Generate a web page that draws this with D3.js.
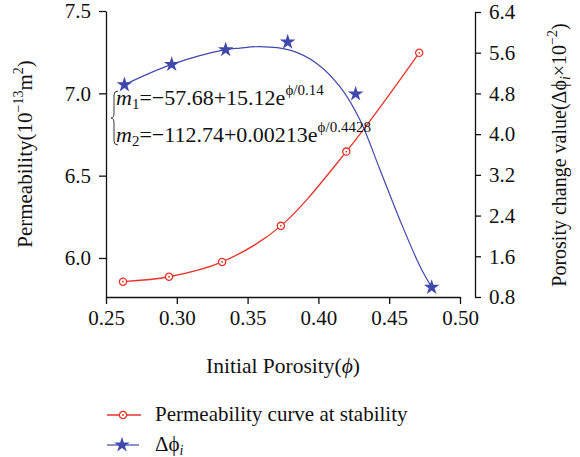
<!DOCTYPE html>
<html>
<head>
<meta charset="utf-8">
<script src="https://cdn.jsdelivr.net/npm/d3@7"></script>
<style>
  body { margin: 0; background: #fff; }
  text { font-family: "Liberation Serif", "DejaVu Serif", serif; fill: #111; }
</style>
</head>
<body>
<div id="chart"></div>
<script>
// permeability at stability (left axis)
const permPhi = [0.262, 0.2945, 0.332, 0.3735, 0.4197, 0.4712];
const permVal = [5.856, 5.886, 5.976, 6.195, 6.646, 7.246];

// porosity change (right axis), measured points
const dPhi = [0.263, 0.2964, 0.3345, 0.3783, 0.4263, 0.480];
const dVal = [4.97, 5.37, 5.66, 5.81, 4.79, 0.99];

// fitted curve for porosity change
const fitPhi = [0.263, 0.2964, 0.3345, 0.3446, 0.3588, 0.380, 0.3988, 0.4153, 0.4294, 0.4435, 0.4576, 0.4718, 0.480];
const fitVal = [4.97, 5.37, 5.66, 5.69, 5.72, 5.65, 5.39, 4.93, 4.28, 3.30, 2.31, 1.40, 0.99];

const xTicks = [0.25, 0.30, 0.35, 0.40, 0.45, 0.50];
const leftTicks = [6.0, 6.5, 7.0, 7.5];
const rightTicks = [0.8, 1.6, 2.4, 3.2, 4.0, 4.8, 5.6, 6.4];

const w = 580, h = 457;
const red = "#e5342a", blue = "#4048ab";

const svg = d3.select("#chart").append("svg")
    .attr("width", w).attr("height", h);

const x = d3.scaleLinear().domain([0.25, 0.50]).range([106, 460]);
const yL = d3.scaleLinear().domain([5.763, 7.5]).range([297, 11]);
const yR = d3.scaleLinear().domain([0.8, 6.4]).range([297, 12]);

const styleAxis = g => {
  g.selectAll("path, line").attr("stroke", "#111").attr("stroke-width", 1.3);
  g.selectAll("text").attr("font-size", 21).attr("font-family", "Liberation Serif").attr("fill", "#111");
};

svg.append("g").attr("transform", "translate(0,297)")
  .call(d3.axisBottom(x).tickValues(xTicks).tickFormat(d3.format(".2f")).tickSize(7).tickSizeOuter(0).tickPadding(6))
  .call(styleAxis);

svg.append("g").attr("transform", "translate(106,0)")
  .call(d3.axisLeft(yL).tickValues(leftTicks).tickFormat(d3.format(".1f")).tickSize(7).tickSizeOuter(0).tickPadding(8))
  .call(styleAxis);

svg.append("g").attr("transform", "translate(475,0)")
  .call(d3.axisRight(yR).tickValues(rightTicks).tickFormat(d3.format(".1f")).tickSize(6).tickSizeOuter(0).tickPadding(8))
  .call(styleAxis);

// curves
const permPts = permPhi.map((p, i) => [p, permVal[i]]);
const fitPts = fitPhi.map((p, i) => [p, fitVal[i]]);
const dPts = dPhi.map((p, i) => [p, dVal[i]]);

svg.append("path")
  .attr("d", d3.line().x(d => x(d[0])).y(d => yL(d[1])).curve(d3.curveMonotoneX)(permPts))
  .attr("fill", "none").attr("stroke", red).attr("stroke-width", 1.3);

svg.append("path")
  .attr("d", d3.line().x(d => x(d[0])).y(d => yR(d[1])).curve(d3.curveCatmullRom.alpha(0.5))(fitPts))
  .attr("fill", "none").attr("stroke", blue).attr("stroke-width", 1.2);

const circleMark = (sel) => {
  sel.append("circle").attr("r", 3.6).attr("fill", "#fff").attr("stroke", red).attr("stroke-width", 1.3);
  sel.append("circle").attr("r", 0.9).attr("fill", red);
};

svg.selectAll(".pm").data(permPts).join("g")
  .attr("transform", d => `translate(${x(d[0])},${yL(d[1])})`)
  .call(circleMark);

const star = d3.symbol().type(d3.symbolStar).size(75);
svg.selectAll(".st").data(dPts).join("path")
  .attr("transform", d => `translate(${x(d[0])},${yR(d[1])})`)
  .attr("d", star).attr("fill", blue);

// equations
svg.append("path")
  .attr("d", "M118,91 Q114,91 114,95 L114,113 Q114,118 111,118 Q114,118 114,123 L114,141 Q114,145 118,145")
  .attr("fill", "none").attr("stroke", "#222").attr("stroke-width", 0.9);

function eq(y, sub, body, sup) {
  const t = svg.append("text").attr("x", 116).attr("y", y).attr("font-size", 22);
  t.append("tspan").attr("font-style", "italic").text("m");
  t.append("tspan").attr("font-size", 15).attr("dy", 4).text(sub);
  t.append("tspan").attr("dy", -4).text(body);
  t.append("tspan").attr("font-size", 15).attr("dy", -10).text(sup);
}
eq(105, "1", "=\u221257.68+15.12e", "\u03d5/0.14");
eq(142, "2", "=\u2212112.74+0.00213e", "\u03d5/0.4428");

// axis titles
const lt = svg.append("text").attr("transform", "translate(32,154) rotate(-90)")
  .attr("text-anchor", "middle").attr("font-size", 21);
lt.append("tspan").text("Permeability(10");
lt.append("tspan").attr("font-size", 14).attr("dy", -9).text("\u221213");
lt.append("tspan").attr("dy", 9).text("m");
lt.append("tspan").attr("font-size", 14).attr("dy", -9).text("2");
lt.append("tspan").attr("dy", 9).text(")");

const rt = svg.append("text").attr("transform", "translate(566,155) rotate(-90)")
  .attr("text-anchor", "middle").attr("font-size", 20);
rt.append("tspan").text("Porosity change value(\u0394\u03d5");
rt.append("tspan").attr("font-size", 14).attr("font-style", "italic").attr("dy", 4).text("i");
rt.append("tspan").attr("dy", -4).text("\u00d710");
rt.append("tspan").attr("font-size", 14).attr("dy", -9).text("\u22122");
rt.append("tspan").attr("dy", 9).text(")");

const xt = svg.append("text").attr("x", 283).attr("y", 373)
  .attr("text-anchor", "middle").attr("font-size", 21.5);
xt.append("tspan").text("Initial Porosity(");
xt.append("tspan").attr("font-style", "italic").text("\u03d5");
xt.append("tspan").text(")");

// legend
const lg1 = svg.append("g");
lg1.append("line").attr("x1", 107).attr("x2", 141).attr("y1", 415).attr("y2", 415)
  .attr("stroke", red).attr("stroke-width", 1.3);
lg1.append("g").attr("transform", "translate(123,415)").call(circleMark);
lg1.append("text").attr("x", 155).attr("y", 421).attr("font-size", 21).text("Permeability curve at stability");

const lg2 = svg.append("g");
lg2.append("line").attr("x1", 107).attr("x2", 139).attr("y1", 445).attr("y2", 445)
  .attr("stroke", blue).attr("stroke-width", 1.2);
lg2.append("path").attr("transform", "translate(122,445)").attr("d", star).attr("fill", blue);
const l2t = lg2.append("text").attr("x", 155).attr("y", 451).attr("font-size", 21);
l2t.append("tspan").text("\u0394\u03d5");
l2t.append("tspan").attr("font-size", 14).attr("font-style", "italic").attr("dy", 4).text("i");
</script>
</body>
</html>
